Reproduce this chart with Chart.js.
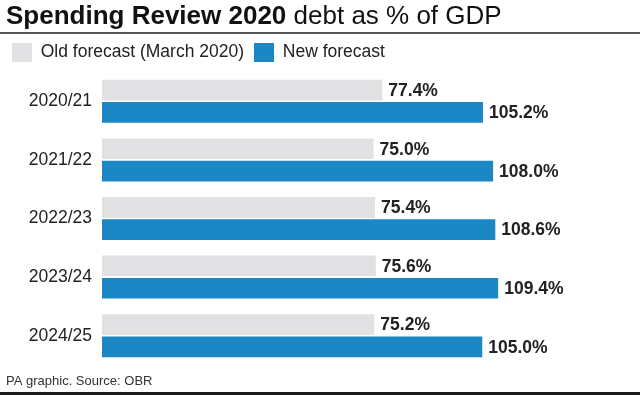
<!DOCTYPE html>
<html><head><meta charset="utf-8">
<script src="https://cdn.jsdelivr.net/npm/chart.js@4"></script>
<style>html,body{margin:0;padding:0;background:#fff}#wrap{width:640px;height:395px;position:relative}</style>
</head><body><div id="wrap"><canvas id="c" width="640" height="395"></canvas></div>
<script>
const categories = ["2020/21","2021/22","2022/23","2023/24","2024/25"];
const oldForecast = [77.4, 75.0, 75.4, 75.6, 75.2];
const newForecast = [105.2, 108.0, 108.6, 109.4, 105.0];
const seriesNames = ["Old forecast (March 2020)", "New forecast"];
const titleBold = "Spending Review 2020";
const titleRest = " debt as % of GDP";
const sourceText = "PA graphic. Source: OBR";

const FONT = "'Liberation Sans', Arial, sans-serif";

const decor = {
  id: 'decor',
  afterDraw(chart) {
    const ctx = chart.ctx;
    ctx.save();
    // title
    ctx.textBaseline = 'alphabetic';
    ctx.fillStyle = '#111';
    ctx.font = "bold 26px " + FONT;
    ctx.fillText(titleBold, 6, 24);
    const w = ctx.measureText(titleBold).width;
    ctx.font = "26px " + FONT;
    ctx.fillText(titleRest, 6 + w, 24);
    // rule
    ctx.fillStyle = '#555';
    ctx.fillRect(0, 32, 640, 2);
    // source
    ctx.fillStyle = '#333';
    ctx.font = "13px " + FONT;
    ctx.textBaseline = 'middle';
    ctx.fillText(sourceText, 6, 381);
    // bottom bar
    ctx.fillStyle = '#1a1a1a';
    ctx.fillRect(0, 392, 640, 3);
    // value labels
    ctx.font = "bold 17.5px " + FONT;
    ctx.fillStyle = '#222';
    ctx.textBaseline = 'middle';
    chart.data.datasets.forEach((ds, i) => {
      const meta = chart.getDatasetMeta(i);
      meta.data.forEach((bar, j) => {
        const v = ds.data[j];
        ctx.fillText(v.toFixed(1) + '%', bar.x + 6, bar.y + 1);
      });
    });
    ctx.restore();
  }
};

new Chart(document.getElementById('c'), {
  type: 'bar',
  data: {
    labels: categories,
    datasets: [
      { label: seriesNames[0], data: oldForecast, backgroundColor: '#e1e1e3', barPercentage: 0.93, categoryPercentage: 0.76 },
      { label: seriesNames[1], data: newForecast, backgroundColor: '#1b87c5', barPercentage: 0.93, categoryPercentage: 0.76 }
    ]
  },
  options: {
    indexAxis: 'y',
    responsive: false,
    animation: false,
    devicePixelRatio: 1,
    layout: { padding: { top: 33, bottom: 30, left: 2, right: 31 } },
    plugins: {
      legend: {
        display: true,
        position: 'top',
        align: 'start',
        labels: {
          boxWidth: 20, boxHeight: 19, padding: 10,
          color: '#222',
          font: { family: FONT, size: 17.5 }
        }
      },
      title: { display: false },
      tooltip: { enabled: false }
    },
    scales: {
      x: { display: false, min: 0, max: 140 },
      y: {
        grid: { display: false },
        border: { display: false },
        ticks: { color: '#222', font: { family: FONT, size: 17.5 }, padding: 2 },
        afterFit(scale) { scale.width = 100; }
      }
    }
  },
  plugins: [decor]
});
</script></body></html>
